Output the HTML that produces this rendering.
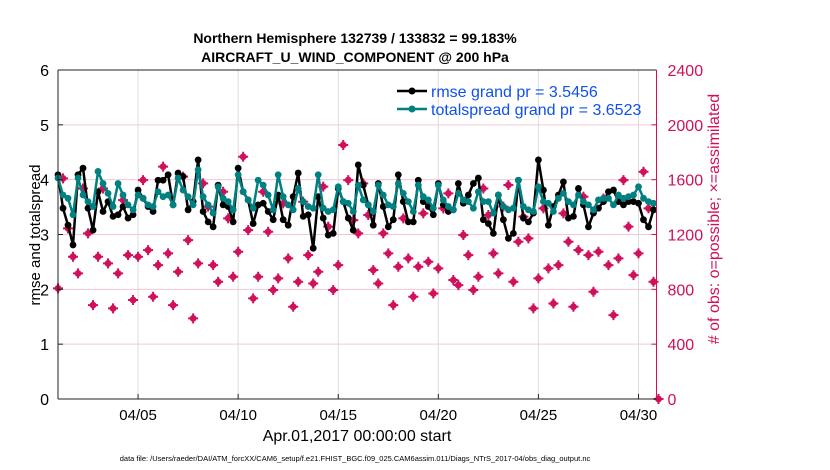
<!DOCTYPE html>
<html><head><meta charset="utf-8"><style>
body{margin:0;background:#fff;}
svg{display:block;font-family:"Liberation Sans",sans-serif;}
</style></head><body>
<svg id="chart" width="830" height="470">
<text x="355" y="43" text-anchor="middle" font-size="14" font-weight="bold">Northern Hemisphere 132739 / 133832 = 99.183%</text>
<text x="355" y="62" text-anchor="middle" font-size="14" font-weight="bold">AIRCRAFT_U_WIND_COMPONENT @ 200 hPa</text>
<g id="grid"></g>
<g id="series"></g>
<g id="axes"></g>
<text transform="translate(40,235) rotate(-90)" text-anchor="middle" font-size="15">rmse and totalspread</text>
<text transform="translate(719,219) rotate(-90)" text-anchor="middle" font-size="16" fill="#d0105a"># of obs: o=possible; ×=assimilated</text>
<text x="357" y="441" text-anchor="middle" font-size="16">Apr.01,2017 00:00:00 start</text>
<text x="355" y="461" text-anchor="middle" font-size="7.5">data file: /Users/raeder/DAI/ATM_forcXX/CAM6_setup/f.e21.FHIST_BGC.f09_025.CAM6assim.011/Diags_NTrS_2017-04/obs_diag_output.nc</text>
<g>
<g>
<line x1="397" y1="91" x2="427" y2="91" stroke="#000" stroke-width="2.5"/>
<circle cx="412" cy="91" r="3.5" fill="#000"/>
<text x="431" y="97" font-size="16" fill="#1050f0">rmse grand pr = 3.5456</text></g>
<g>
<line x1="397" y1="109" x2="427" y2="109" stroke="#008080" stroke-width="2.5"/>
<circle cx="412" cy="109" r="3.5" fill="#008080"/>
<text x="431" y="115" font-size="16" fill="#1050f0">totalspread grand pr = 3.6523</text></g>
</g>
</svg>
<script>
const rmse=[4.09,3.48,3.17,2.81,4.09,4.21,3.48,3.08,3.78,3.42,3.60,3.33,3.36,3.51,3.30,3.36,3.81,3.66,3.51,3.42,3.99,3.99,4.09,3.54,4.12,4.06,3.45,3.60,4.36,3.42,3.23,3.14,3.90,3.54,3.51,3.23,4.21,3.78,3.63,3.20,
3.54,3.57,3.42,3.27,3.72,3.27,3.17,3.69,4.12,3.33,3.36,2.75,3.69,3.30,2.99,3.02,3.84,3.60,3.30,3.08,4.27,3.90,3.54,3.17,3.93,3.51,3.14,3.27,4.09,3.60,3.23,3.23,3.99,3.60,3.51,3.36,3.93,3.54,3.42,3.45,
3.93,3.57,3.72,3.93,4.03,3.27,3.20,3.02,3.72,3.27,2.93,3.02,3.99,3.30,3.23,3.39,4.36,3.81,3.17,3.51,3.72,3.96,3.30,3.33,3.84,3.54,3.14,3.39,3.48,3.60,3.78,3.81,3.60,3.54,3.60,3.60,3.57,3.27,3.14,3.45];
const spread=[4.03,3.72,3.66,3.36,4.03,3.72,3.60,3.51,4.15,3.93,3.75,3.51,3.93,3.72,3.54,3.45,3.72,3.66,3.54,3.51,3.78,3.69,3.72,3.54,4.03,3.81,3.69,3.54,4.18,3.69,3.54,3.39,3.87,3.66,3.60,3.45,4.09,3.78,3.63,3.48,
3.99,3.90,3.72,3.45,4.09,3.69,3.54,3.45,3.84,3.60,3.51,3.48,4.09,3.48,3.42,3.45,3.87,3.60,3.57,3.42,3.90,3.63,3.54,3.42,3.90,3.72,3.54,3.51,3.93,3.75,3.60,3.42,3.90,3.69,3.63,3.48,3.90,3.63,3.51,3.45,
3.75,3.63,3.60,3.48,3.78,3.60,3.60,3.39,3.72,3.51,3.45,3.48,3.99,3.51,3.45,3.42,3.87,3.60,3.57,3.42,3.66,3.75,3.60,3.54,3.72,3.60,3.54,3.45,3.63,3.66,3.66,3.54,3.72,3.66,3.69,3.72,3.87,3.66,3.60,3.57];
const obsCount=[807,1609,1245,1038,916,1536,1208,685,1038,1536,989,661,916,1451,1050,722,1038,1597,1086,746,977,1695,1062,685,928,1622,1159,588,989,1573,1403,977,855,1512,1318,892,1074,1767,1232,734,
892,1512,1220,795,880,1427,1026,673,855,1439,1050,843,928,1549,1257,795,977,1853,1597,1305,1208,1573,1342,941,843,1208,1062,685,965,1318,1026,746,965,1354,1001,770,953,1391,1500,868,
831,1196,1050,795,892,1536,1342,1062,916,1403,1561,855,1147,1330,1172,661,880,1391,953,697,977,1354,1147,673,1086,1476,1050,782,1074,1463,977,612,1026,1597,1257,904,1062,1658,1391,855,0];
const xTickDays=[4,9,14,19,24,29];
const xTickLabels=["04/05","04/10","04/15","04/20","04/25","04/30"];
const yTicks=[0,1,2,3,4,5,6];
const rTicks=[0,400,800,1200,1600,2000,2400];

const NS="http://www.w3.org/2000/svg";
const L=58,R=656.5,T=70,B=399;
const xs=d=>L+(d/29.9)*(R-L);
const ys=v=>B-(v/6)*(B-T);
const yr=v=>B-(v/2400)*(B-T);
function mk(tag,attrs,parent){const e=document.createElementNS(NS,tag);for(const k in attrs)e.setAttribute(k,attrs[k]);parent.appendChild(e);return e;}
const grid=document.getElementById('grid'),ser=document.getElementById('series'),ax=document.getElementById('axes');
xTickDays.forEach((d,i)=>{
  const g=mk('line',{x1:xs(d),x2:xs(d),y1:T,y2:B,stroke:'#dcdcdc','stroke-width':1},grid);
  
  
  const t=mk('line',{x1:xs(d),x2:xs(d),y1:B,y2:B-5,stroke:'#222'},ax);
  
  
  const l=mk('text',{x:xs(d),y:B+21,'text-anchor':'middle','font-size':15},ax);
  l.textContent=xTickLabels[i];
  
  
});
rTicks.forEach(v=>{
  if(v>0&&v<2400){const g=mk('line',{x1:L,x2:R,y1:yr(v),y2:yr(v),stroke:'#f3c6d6','stroke-width':1},grid);
  
  }
  const t=mk('line',{x1:R,x2:R-5,y1:yr(v),y2:yr(v),stroke:'#d0105a'},ax);
  
  
  const l=mk('text',{x:R+11,y:yr(v)+6,'font-size':16,fill:'#d0105a'},ax);
  l.textContent=v;
  
  
});
yTicks.forEach(v=>{
  const t=mk('line',{x1:L,x2:L+5,y1:ys(v),y2:ys(v),stroke:'#222'},ax);
  
  
  const l=mk('text',{x:L-9,y:ys(v)+6,'text-anchor':'end','font-size':16},ax);
  l.textContent=v;
  
  
});
const la=mk('line',{x1:L,x2:L,y1:T,y2:B,stroke:'#222'},ax);


const ba=mk('line',{x1:L,x2:R,y1:B,y2:B,stroke:'#222'},ax);


const ta=mk('line',{x1:L,x2:R,y1:T,y2:T,stroke:'#222'},ax);


const ra=mk('line',{x1:R,x2:R,y1:T,y2:B,stroke:'#d0105a'},ax);



obsCount.forEach((v,i)=>{
  const x=xs(i*0.25),y=yr(v);
  const g=mk('g',{},ser);
  
  
  mk('circle',{cx:x,cy:y,r:3.4,fill:'#d0105a'},g);
  mk('path',{d:`M${x-5} ${y}H${x+5}M${x} ${y-5}V${y+5}`,stroke:'#d0105a','stroke-width':2},g);
});
function line(arr,color,name){
  const p=mk('polyline',{points:arr.map((v,i)=>xs(i*0.25)+','+ys(v)).join(' '),fill:'none',stroke:color,'stroke-width':2.5,'stroke-linejoin':'round'},ser);
  
  
  arr.forEach((v,i)=>{
    const c=mk('circle',{cx:xs(i*0.25),cy:ys(v),r:3.4,fill:color},ser);
    
    
  });
}
line(rmse,'#000','rmse');
line(spread,'#008080','totalspread');
</script>
</body></html>
